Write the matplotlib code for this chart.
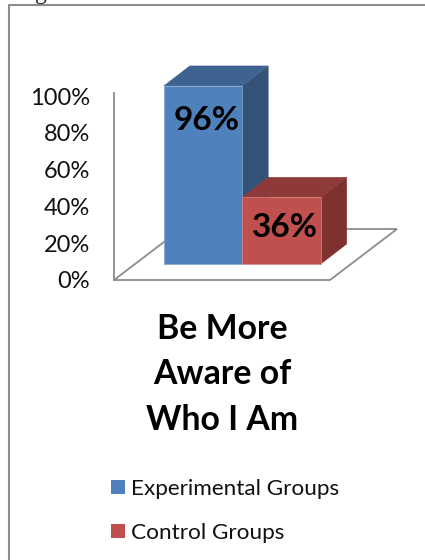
#!/usr/bin/env python3
"""
Be More Aware of Who I Am: experimental vs control groups, fake 3D columns
"""

import matplotlib.pyplot as plt
from matplotlib.patches import Polygon, Rectangle

plt.rcParams['font.family'] = ['Lato', 'DejaVu Sans']

# Data
groups = ['Experimental Groups', 'Control Groups']
values = [96, 36]
value_labels = ['96%', '36%']
tick_values = [0, 20, 40, 60, 80, 100]
tick_labels = ['0%', '20%', '40%', '60%', '80%', '100%']
title_lines = ['Be More', 'Aware of', 'Who I Am']

# Colors
FRONT = ['#4F81BD', '#C0504D']
SIDE = ['#335379', '#7F3130']
TOP = ['#3E6390', '#8E3A38']
EDGE = ['#7FA3CF', '#D08A88']
GRAY = '#8C8C8C'

W, H = 425, 560
# pixel layout of the bar scale
PX_X0, PX_PER_CAT = 203, 78.5
PX_Y0, PX_PER_PCT = 264, 1.855
DEPTH_X, DEPTH_Y = 26 / PX_PER_CAT, 20 / PX_PER_PCT
LABEL_DROP = [18.5, 16.5]


def fx(px):
    return (px - PX_X0) / PX_PER_CAT


def fy(py):
    return (PX_Y0 - py) / PX_PER_PCT


fig = plt.figure(figsize=(W / 100, H / 100), dpi=100, facecolor='white')

# value axis, real ticks
tick_ax = fig.add_axes([114 / W, 1 - 280 / H, 0.01, 187 / H])
tick_ax.set_ylim(0, 187 / 184 * 100)
tick_ax.set_yticks(tick_values)
tick_ax.set_yticklabels(tick_labels, fontsize=17, color='#111111')
tick_ax.tick_params(axis='y', length=0, pad=17.5)
tick_ax.set_xticks([])
for side in ['top', 'right', 'bottom']:
    tick_ax.spines[side].set_visible(False)
tick_ax.spines['left'].set_color(GRAY)
tick_ax.spines['left'].set_linewidth(1.3)
tick_ax.patch.set_alpha(0)

# main layer covers the whole figure
ax = fig.add_axes([0, 0, 1, 1])
ax.set_xlim(fx(0), fx(W))
ax.set_ylim(fy(H), fy(0))
ax.axis('off')

# page frame and clipped caption letter
ax.plot([fx(9), fx(9), fx(W)], [fy(H), fy(5), fy(5)], color=GRAY, lw=1.5, zorder=1)
fig.text(41 / W, 1 + 1 / H, 'g', family='Liberation Serif', fontsize=17, ha='center',
         va='baseline', color='#222222')

# floor
floor = Polygon([(fx(114), fy(280)), (fx(330), fy(280)), (fx(397), fy(229)), (fx(181), fy(229))],
                closed=True, facecolor='white', edgecolor=GRAY, linewidth=1.3, zorder=2)
ax.add_patch(floor)

# columns
bars = ax.bar(range(len(values)), values, width=1, color=FRONT, edgecolor=EDGE, linewidth=0.5, zorder=5)
for i, (bar, val) in enumerate(zip(bars, values)):
    bar.set_label(groups[i])
    z = 3 + i * 3
    left, right = i - 0.5, i + 0.5
    ax.add_patch(Polygon([(right, 0), (right + DEPTH_X, DEPTH_Y), (right + DEPTH_X, val + DEPTH_Y), (right, val)],
                         closed=True, facecolor=SIDE[i], edgecolor=SIDE[i], linewidth=0.3, zorder=z))
    ax.add_patch(Polygon([(left, val), (left + DEPTH_X, val + DEPTH_Y), (right + DEPTH_X, val + DEPTH_Y), (right, val)],
                         closed=True, facecolor=TOP[i], edgecolor=TOP[i], linewidth=0.3, zorder=z))
    bar.set_zorder(z + 1)
    ax.text(i + 0.04, val - LABEL_DROP[i], value_labels[i], ha='center', va='center', fontsize=24,
            fontweight='bold', color='black', zorder=10)

# title lines
for line, py in zip(title_lines, [329, 374, 420]):
    ax.text(fx(222), fy(py), line, ha='center', va='center', fontsize=24.3, fontweight='bold', color='black')

# legend
handles = [Rectangle((0, 0), 1, 1, facecolor=c) for c in FRONT]
fig.legend(handles, groups, loc='upper left', bbox_to_anchor=(111 / W, 1 - 479 / H), frameon=False,
           fontsize=16.2, handlelength=0.62, handleheight=0.62, handletextpad=0.27,
           labelspacing=1.06, borderpad=0, borderaxespad=0, labelcolor='#111111')

plt.savefig('out.png', dpi=100, facecolor='white')
plt.close(fig)
